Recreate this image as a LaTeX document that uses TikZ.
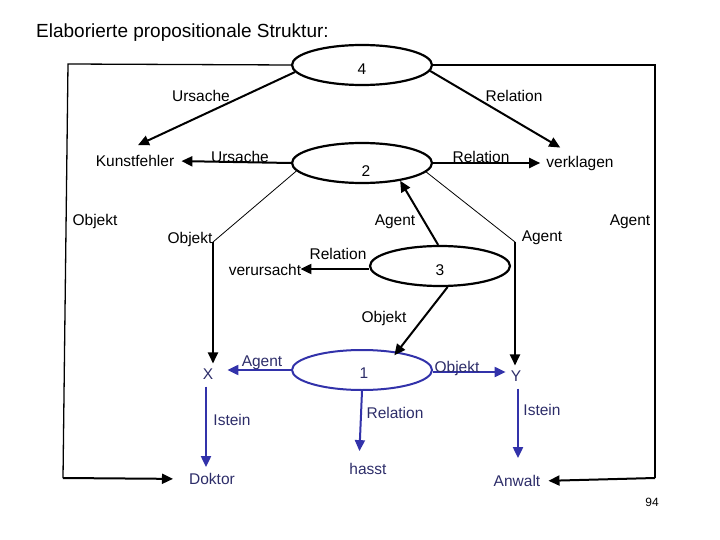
\documentclass[tikz,border=0pt]{standalone}
\usepackage{fontspec}
\setmainfont{Liberation Sans}
\usetikzlibrary{arrows.meta,calc,shapes.geometric}
\definecolor{bl}{RGB}{50,50,170}
\definecolor{nv}{RGB}{45,45,105}
\begin{document}
\begin{tikzpicture}[x=1pt,y=-1pt,
 lbl/.style={inner sep=1pt,font=\fontsize{15.5}{18}\selectfont},
 nlbl/.style={lbl,text=nv},
 prop/.style={ellipse,draw,line width=2.2pt,minimum width=140pt,minimum height=40pt,inner sep=0pt},
 arr/.style={line width=2pt,-{Triangle[length=11pt,width=10pt]}},
 barr/.style={arr,draw=bl,color=bl},
 thinline/.style={line width=0.8pt},
 framel/.style={line width=1.3pt},
]
\useasboundingbox (0,0) rectangle (720,540);
\node[inner sep=0pt,anchor=west,font=\fontsize{19}{22}\selectfont] (title) at (36,33) {Elaborierte propositionale Struktur:};
% propositions
\node[prop] (e4) at (362,65) {};
\node[lbl] (n4) at (362,69) {4};
\node[prop] (e2) at (362,163) {};
\node[lbl] (n2) at (366,171) {2};
\node[prop] (e3) at (440,266) {};
\node[lbl] (n3) at (440,270) {3};
\node[prop,draw=bl,line width=2pt] (e1) at (362,370) {};
\node[nlbl] (n1) at (364,373) {1};
% concept nodes
\node[lbl] (kunst) at (135,161) {Kunstfehler};
\node[lbl] (verk) at (580,163) {verklagen};
\node[lbl] (vers) at (265,270) {verursacht};
\node[nlbl] (X) at (208,374) {X};
\node[nlbl] (Y) at (516,376) {Y};
\node[nlbl] (dok) at (212,479) {Doktor};
\node[nlbl] (anw) at (517,481) {Anwalt};
\node[nlbl] (hasst) at (368,469) {hasst};
\node[inner sep=1pt,font=\fontsize{12}{14}\selectfont] (p94) at (652,502) {94};
% junctions and frame corners
\coordinate (jX) at (213,242);
\coordinate (jY) at (515,242);
\coordinate (fTL) at (68,64);
\coordinate (fBL) at (63,478);
\coordinate (fTR) at (655,65);
\coordinate (fBR) at (655,478);
% connectors
\draw[arr] (e4.186) -- ($(kunst.north)+(3,-9)$);
\draw[arr] (e4.-5) -- ($(verk.north west)+(15,-7)$);
\draw[arr,shorten >=6pt] (e2.west) -- (kunst.east);
\draw[arr,shorten >=5pt] (e2.east) -- (verk.west);
\draw[thinline] (e2.187) -- (jX);
\draw[thinline] (e2.-8) -- (jY);
\draw[arr,shorten >=4pt] (jX) -- (jX |- X.north);
\draw[arr,shorten >=4pt] (jY) -- (jY |- Y.north);
\draw[arr] (e3.95) -- (e2.-25);
\draw[arr,shorten >=-2pt] ($(e3.west)+(0,3)$) -- ($(vers.east)+(0,-1)$);
\draw[arr] (e3.-70) -- ($(e1.30)+(0,4)$);
\draw[barr,shorten >=13pt] (e1.west) -- (e1.west -| X.east);
\draw[barr,shorten >=4pt] ($(e1.east)+(0,2)$) -- ($(e1.east -| Y.west)+(0,2)$);
\draw[barr,shorten <=6pt,shorten >=5pt] ($(X.south)+(-2,0)$) -- ($(X.south |- dok.north)+(-2,0)$);
\draw[barr,shorten >=11pt] (e1.south) -- ($(hasst.north)+(-9,0)$);
\draw[barr,shorten <=6pt,shorten >=16pt] ($(Y.south)+(2,0)$) -- ($(Y.south |- anw.north)+(2,0)$);
\draw[framel] (e4.west) -- (fTL) -- (fBL);
\draw[arr,shorten >=15pt] (fBL) -- (dok.west);
\draw[framel] (e4.east) -- (fTR) -- (fBR);
\draw[arr,shorten >=7pt] (fBR) -- (anw.east);
% edge labels
\node[lbl] (lU4) at (201,96) {Ursache};
\node[lbl] (lR4) at (514,96) {Relation};
\node[lbl] (lU2) at (240,157) {Ursache};
\node[lbl] (lR2) at (481,157) {Relation};
\node[lbl] (lOL) at (95,221) {Objekt};
\node[lbl] (lAR) at (630,222) {Agent};
\node[lbl] (lOX) at (190,239) {Objekt};
\node[lbl] (lA3) at (395,222) {Agent};
\node[lbl] (lAY) at (542,238) {Agent};
\node[lbl] (lR3) at (338,254) {Relation};
\node[lbl] (lO3) at (384,318) {Objekt};
\node[nlbl] (lA1) at (262,363) {Agent};
\node[nlbl] (lO1) at (457,368) {Objekt};
\node[nlbl] (lIX) at (232,420) {Istein};
\node[nlbl] (lR1) at (395,413) {Relation};
\node[nlbl] (lIY) at (542,410) {Istein};
\end{tikzpicture}
\end{document}
